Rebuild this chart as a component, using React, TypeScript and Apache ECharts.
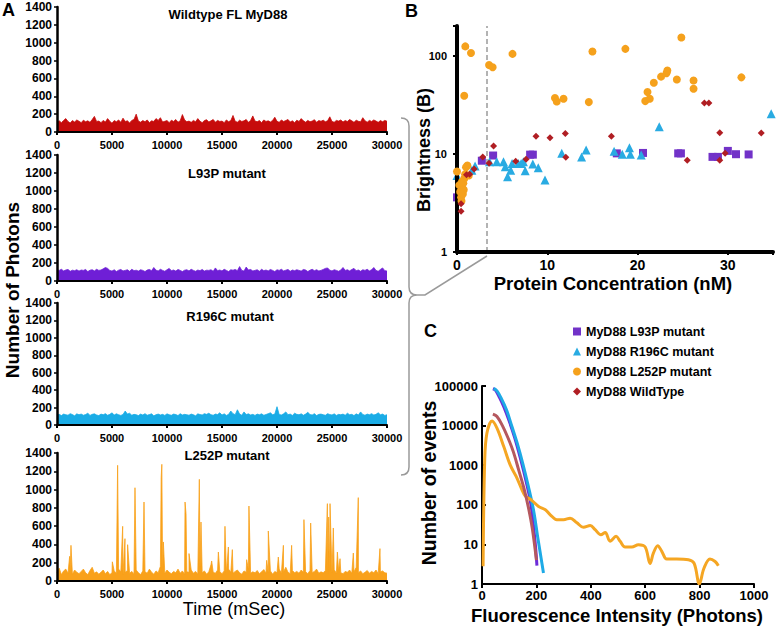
import React, { useEffect, useRef } from 'react';
import * as echarts from 'echarts';

const FONT = '"Liberation Sans", Arial, Helvetica, sans-serif';
const STEP_MS = 200;

const TRACE_NAMES = ['Wildtype FL MyD88', 'L93P mutant', 'R196C mutant', 'L252P mutant'];
const TRACE_COLORS = ['#c60c0c', '#6f1fd6', '#1aace6', '#f9a11b'];

const WT_TRACE = [
  110, 125, 105, 130, 150, 118, 100, 128, 112, 135,
  120, 105, 132, 115, 125, 108, 140, 175, 118, 122,
  105, 130, 112, 150, 120, 98, 128, 115, 135, 108,
  155, 118, 125, 102, 130, 140, 200, 122, 110, 128,
  115, 135, 105, 125, 118, 150, 130, 160, 112, 120,
  128, 105, 132, 118, 140, 110, 125, 195, 135, 115,
  122, 108, 130, 115, 150, 120, 105, 128, 138, 112,
  125, 140, 110, 130, 118, 122, 105, 135, 115, 128,
  185, 120, 110, 132, 118, 125, 140, 108, 130, 180,
  122, 115, 128, 105, 135, 118, 125, 112, 130, 165,
  120, 108, 135, 118, 128, 140, 112, 125, 105, 132,
  118, 150, 125, 110, 130, 115, 122, 138, 108, 128,
  120, 132, 115, 125, 170, 118, 110, 130, 122, 135,
  112, 128, 118, 140, 125, 108, 132, 120, 115, 160,
  125, 110, 130, 118, 135, 122, 108, 128, 115, 130, 120,
];

const L93P_TRACE = [
  125, 118, 130, 112, 122, 128, 108, 120, 115, 125,
  110, 122, 118, 128, 105, 120, 125, 112, 130, 118,
  122, 135, 150, 140, 118, 110, 125, 105, 120, 128,
  112, 118, 125, 108, 130, 115, 120, 110, 125, 118,
  105, 122, 128, 115, 150, 120, 112, 130, 118, 108,
  125, 140, 115, 122, 110, 128, 118, 105, 120, 125,
  112, 130, 118, 108, 122, 115, 128, 110, 120, 118,
  125, 108, 145, 115, 122, 112, 130, 118, 105, 125,
  120, 128, 115, 160, 118, 110, 155, 122, 128, 112,
  118, 125, 108, 130, 115, 122, 112, 128, 118, 105,
  125, 118, 130, 112, 120, 128, 108, 122, 115, 125,
  118, 110, 128, 122, 105, 120, 130, 115, 125, 112,
  118, 128, 140, 145, 120, 112, 125, 118, 108, 122,
  150, 118, 125, 112, 128, 140, 115, 122, 108, 125,
  118, 130, 112, 125, 150, 118, 108, 128, 145, 115, 110,
];

const R196C_TRACE = [
  115, 122, 108, 125, 118, 112, 130, 120, 105, 128,
  118, 125, 112, 120, 135, 110, 122, 128, 115, 108,
  125, 118, 130, 112, 122, 140, 115, 128, 118, 110,
  120, 160, 125, 135, 112, 122, 118, 108, 125, 115,
  130, 112, 120, 128, 105, 118, 125, 115, 122, 110,
  128, 118, 112, 125, 120, 108, 130, 115, 122, 118,
  112, 125, 118, 105, 128, 120, 115, 130, 122, 135,
  118, 112, 125, 120, 140, 115, 128, 110, 122, 160,
  130, 118, 175, 125, 112, 150, 120, 128, 115, 122,
  110, 125, 118, 128, 112, 120, 130, 140, 118, 125,
  210, 120, 115, 128, 150, 118, 125, 110, 135, 122,
  118, 128, 112, 125, 145, 120, 115, 130, 108, 122,
  125, 118, 112, 130, 120, 115, 128, 110, 122, 118,
  125, 112, 135, 118, 122, 108, 128, 115, 150, 120,
  112, 125, 118, 130, 115, 122, 140, 118, 125, 110, 118,
];

const L252P_BASE = [
  90, 140, 70, 110, 130, 85, 100, 75, 120, 95,
  80, 105, 130, 90, 70, 115, 150, 85, 100, 75,
  95, 120, 80, 105, 70, 90, 110, 85, 130, 100,
  75, 95, 115, 85, 105, 80, 120, 90, 70, 110,
  100, 85, 130, 95, 75, 110, 90, 160, 100, 85,
  120, 95, 80, 105, 90, 130, 85, 110, 75, 100,
  95, 120, 85, 105, 80, 140, 90, 110, 75, 100,
  180, 95, 85, 120, 100, 80, 110, 90, 130, 95,
  85, 105, 120, 90, 75, 110, 95, 130, 85, 100,
  90, 115, 80, 100, 125, 85, 95, 110, 75, 105,
  90, 130, 85, 100, 150, 95, 80, 115, 90, 105,
  85, 120, 95, 100, 80, 115, 90, 105, 130, 85,
  100, 90, 115, 80, 105, 95, 125, 85, 110, 90,
  80, 105, 95, 120, 85, 100, 150, 90, 110, 80,
  95, 115, 85, 105, 90, 120, 80, 100, 110, 90, 85,
];

// [time ms, photons]
const L252P_SPIKES: [number, number][] = [
  [1150, 270], [1270, 390], [5030, 210], [5510, 1265], [5970, 598], [6180, 463], [6420, 397],
  [7090, 1020], [7910, 864], [9470, 1130], [9530, 1276], [9670, 427], [11640, 864], [11730, 736],
  [12000, 300], [12940, 1112], [13090, 645], [14060, 219], [14670, 317], [15270, 598], [15580, 372],
  [15940, 343], [17240, 233], [17450, 820], [19060, 226], [19210, 547], [20120, 262], [20580, 390],
  [21330, 390], [22450, 671], [23060, 634], [24580, 846], [24700, 700], [24820, 846], [25120, 580],
  [25490, 317], [25730, 244], [26940, 306], [27390, 912], [29360, 354],
];

// Panel B: [concentration nM, brightness]
const B_NAMES = ['MyD88 L93P mutant', 'MyD88 R196C mutant', 'MyD88 L252P mutant', 'MyD88 WildType'];
const B_COLORS = ['#7232c8', '#29abe2', '#f5a11c', '#b01e23'];
const B_SYMBOLS = ['rect', 'triangle', 'circle', 'diamond'];
const B_SIZES = [8, 9, 8, 7];

const L93P_B: [number, number][] = [
  [0.0, 3.6], [2.75, 8.5], [4.0, 9.6], [8.1, 9.8], [8.4, 9.8], [17.7, 10.1], [20.6, 10.2],
  [24.5, 10.1], [24.8, 10.1], [28.3, 9.3], [28.9, 9.3], [30.0, 10.7], [30.9, 9.9], [32.3, 9.85],
];
const R196C_B: [number, number][] = [
  [0.0, 6.0], [1.65, 6.8], [2.0, 7.5], [3.6, 8.3], [4.4, 8.3], [5.15, 8.3], [5.35, 7.4], [5.6, 5.85],
  [5.95, 6.8], [6.1, 7.95], [6.8, 7.95], [7.1, 7.95], [7.35, 8.3], [7.55, 6.7], [8.4, 7.85], [9.0, 7.2],
  [9.75, 5.4], [11.6, 10.1], [13.8, 9.3], [14.3, 10.9], [17.4, 10.6], [18.3, 9.9], [19.1, 11.5],
  [19.2, 9.9], [20.4, 9.7], [22.4, 18.8], [34.8, 25.6],
];
const L252P_B: [number, number][] = [
  [0.0, 6.6], [0.25, 4.8], [0.35, 4.1], [0.45, 3.6], [0.5, 3.3], [0.55, 5.2], [0.6, 4.5], [0.65, 3.9],
  [0.7, 5.0], [0.75, 4.3], [0.8, 5.6], [0.9, 6.2], [0.8, 39], [0.92, 124], [1.0, 7.3], [1.15, 7.6],
  [1.3, 6.0], [1.55, 106], [3.55, 80], [3.95, 76], [6.15, 104], [10.85, 37], [11.05, 34], [11.8, 36.4],
  [14.6, 33.6], [15.0, 110], [18.65, 117], [20.85, 34.4], [21.1, 42.5], [21.35, 36.4], [21.8, 52.8],
  [22.6, 61], [23.2, 66], [23.3, 70.5], [24.35, 57], [24.85, 153], [26.2, 55.8], [26.2, 46], [31.5, 60],
];
const WT_B: [number, number][] = [
  [0.45, 2.6], [0.45, 3.1], [1.05, 6.1], [1.4, 6.2], [1.9, 7.0], [2.85, 9.3], [3.55, 8.0], [4.05, 12],
  [6.5, 8.4], [7.65, 8.8], [8.75, 15.1], [10.3, 14.6], [12.0, 16.1], [12.05, 9.2], [17.1, 15.1],
  [25.5, 8.6], [27.4, 32.9], [27.9, 32.9], [29.1, 16.4], [29.1, 8.6], [29.7, 10.1], [33.7, 16.3],
];
const DASH_X = 3.3;

// Panel C: [photons, number of events]
const C_COLORS = ['#6c2bd9', '#1eaae6', '#f5a623', '#b5585e'];
const L93P_C: [number, number][] = [
  [40, 85000], [50, 78000], [65, 50000], [80, 30000], [100, 13000], [120, 5000], [140, 1600],
  [160, 450], [180, 100], [195, 12], [202, 2.9],
];
const R196C_C: [number, number][] = [
  [43, 87000], [55, 75000], [70, 50000], [90, 25000], [110, 9500], [130, 3500], [150, 1100],
  [170, 300], [190, 70], [205, 15], [226, 1.9],
];
const L252P_C: [number, number][] = [
  [4, 2.8], [10, 1350], [18, 6400], [37, 13000], [55, 8600], [80, 2950], [104, 1000], [126, 515],
  [147, 240], [159, 168], [184, 128], [208, 91], [233, 75], [251, 56], [275, 42], [300, 42], [324, 46],
  [349, 35], [373, 27], [398, 30], [416, 23.5], [437, 17.5], [453, 20], [471, 12], [493, 16], [508, 12],
  [526, 8.6], [551, 8.6], [575, 9.8], [600, 8.6], [618, 3.3], [630, 6], [646, 9.3], [661, 6.7],
  [679, 4.3], [716, 4.3], [759, 4.1], [780, 3.3], [799, 1], [816, 2.5], [838, 4.3], [857, 3.7], [869, 2.9],
];
const WT_C: [number, number][] = [
  [40, 19500], [55, 17000], [75, 10000], [95, 5000], [115, 2200], [135, 750], [155, 250], [170, 90],
  [185, 25], [200, 4],
];

const BRACE_D =
  'M401 118 Q409 118 409 126 L409 287 Q409 295 417 295 Q409 295 409 303 L409 467 Q409 475 401 475 ' +
  'M417 295 L425 295 L487 256';

let braceRegistered = false;
function ensureBrace() {
  if (braceRegistered) return;
  echarts.graphic.registerShape('brace', echarts.graphic.extendPath(BRACE_D, {}) as any);
  braceRegistered = true;
}

function txt(text: string, x: number, y: number, size: number, opts: any = {}) {
  const weight = opts.weight || 'bold';
  const align = opts.align || 'center';
  const valign = opts.valign || 'middle';
  return {
    type: 'text',
    x,
    y,
    rotation: opts.rotation || 0,
    silent: true,
    style: {
      text,
      fill: '#000',
      font: `${weight} ${size}px ${FONT}`,
      align,
      verticalAlign: valign,
      textAlign: align,
      textVerticalAlign: valign,
    },
  };
}

const isPow10 = (v: number) => {
  const l = Math.log10(v);
  return Math.abs(l - Math.round(l)) < 1e-6;
};
const plain = (v: number) => String(v);

export default function App() {
  const ref = useRef<HTMLDivElement>(null);

  useEffect(() => {
    if (!ref.current) return;
    ensureBrace();
    const chart = echarts.init(ref.current, undefined, { renderer: 'svg' });

    const traces = [WT_TRACE, L93P_TRACE, R196C_TRACE].map((arr) => arr.map((v, i) => [i * STEP_MS, v]));
    const l252 = [...L252P_BASE.map((v, i) => [i * STEP_MS, v]), ...L252P_SPIKES].sort((a, b) => a[0] - b[0]);
    traces.push(l252 as any);

    const aTops = [7, 155, 303, 453];
    const aHeights = [125, 126, 122, 128];

    const grids: any[] = aTops.map((t, i) => ({ left: 57, top: t, width: 330, height: aHeights[i] }));
    grids.push({ left: 457, top: 26, width: 316, height: 226 });
    grids.push({ left: 482, top: 386, width: 272, height: 198 });

    const labelBase = { color: '#000', fontWeight: 'bold', fontFamily: FONT };

    const xAxes: any[] = aTops.map((_, i) => ({
      type: 'value',
      gridIndex: i,
      min: 0,
      max: 30000,
      interval: 5000,
      z: 5,
      axisLine: { show: true, onZero: false, lineStyle: { color: '#000', width: 2 } },
      axisTick: { show: true, length: 3, lineStyle: { color: '#000', width: 2 } },
      axisLabel: { ...labelBase, fontSize: 11, margin: 7, formatter: plain },
      splitLine: { show: false },
    }));
    const yAxes: any[] = aTops.map((_, i) => ({
      type: 'value',
      gridIndex: i,
      min: 0,
      max: 1400,
      interval: 200,
      z: 5,
      axisLine: { show: true, lineStyle: { color: '#000', width: 2.5 } },
      axisTick: { show: true, length: 3, lineStyle: { color: '#000', width: 1.5 } },
      axisLabel: { ...labelBase, fontSize: 12, margin: 5, formatter: plain },
      splitLine: { show: false },
    }));

    xAxes.push({
      type: 'value',
      gridIndex: 4,
      min: 0,
      max: 35,
      interval: 10,
      z: 5,
      axisLine: { show: true, onZero: false, lineStyle: { color: '#000', width: 4 } },
      axisTick: { show: true, length: 3, lineStyle: { color: '#000', width: 2 } },
      axisLabel: { ...labelBase, fontSize: 14, margin: 6, formatter: (v: number) => (v % 10 === 0 ? String(v) : '') },
      splitLine: { show: false },
    });
    yAxes.push({
      type: 'log',
      logBase: 10,
      gridIndex: 4,
      min: 1,
      max: 200,
      z: 5,
      axisLine: { show: true, lineStyle: { color: '#000', width: 4 } },
      axisTick: { show: true, length: 4, lineStyle: { color: '#000', width: 2 } },
      axisLabel: { ...labelBase, fontSize: 11, margin: 10, formatter: (v: number) => (isPow10(v) ? String(Math.round(v)) : '') },
      splitLine: { show: false },
      minorTick: { show: false },
    });

    xAxes.push({
      type: 'value',
      gridIndex: 5,
      min: 0,
      max: 1000,
      interval: 200,
      z: 5,
      axisLine: { show: true, onZero: false, lineStyle: { color: '#000', width: 2 } },
      axisTick: { show: true, length: 4, lineStyle: { color: '#000', width: 2 } },
      axisLabel: { ...labelBase, fontSize: 13, margin: 5, formatter: plain },
      splitLine: { show: false },
    });
    yAxes.push({
      type: 'log',
      logBase: 10,
      gridIndex: 5,
      min: 1,
      max: 100000,
      z: 5,
      axisLine: { show: true, lineStyle: { color: '#000', width: 2 } },
      axisTick: { show: true, inside: true, length: 4, lineStyle: { color: '#000', width: 2 } },
      axisLabel: { ...labelBase, fontSize: 13, margin: 4, formatter: (v: number) => (isPow10(v) ? String(Math.round(v)) : '') },
      splitLine: { show: false },
    });

    const series: any[] = [];
    traces.forEach((data, i) => {
      series.push({
        name: TRACE_NAMES[i] + ' trace',
        type: 'line',
        xAxisIndex: i,
        yAxisIndex: i,
        data,
        symbol: 'none',
        showSymbol: false,
        silent: true,
        lineStyle: { color: TRACE_COLORS[i], width: 0.8 },
        areaStyle: { color: TRACE_COLORS[i], opacity: 1 },
        z: 2,
      });
    });

    [L93P_B, R196C_B, L252P_B, WT_B].forEach((data, i) => {
      const s: any = {
        name: B_NAMES[i],
        type: 'scatter',
        xAxisIndex: 4,
        yAxisIndex: 4,
        data,
        symbol: B_SYMBOLS[i],
        symbolSize: B_SIZES[i],
        itemStyle: { color: B_COLORS[i], opacity: 1 },
        silent: true,
        z: 3 + i,
      };
      if (i === 0) {
        s.markLine = {
          silent: true,
          symbol: 'none',
          label: { show: false },
          lineStyle: { type: [5, 3], color: '#9a9a9a', width: 1.5 },
          data: [{ xAxis: DASH_X }],
        };
      }
      series.push(s);
    });

    [L93P_C, R196C_C, L252P_C, WT_C].forEach((data, i) => {
      series.push({
        name: B_NAMES[i] + ' distribution',
        type: 'line',
        xAxisIndex: 5,
        yAxisIndex: 5,
        data,
        smooth: 0.35,
        symbol: 'none',
        showSymbol: false,
        silent: true,
        lineStyle: { color: C_COLORS[i], width: 3 },
        z: 3 + i,
      });
    });

    const graphics: any[] = [
      { type: 'brace', x: 0, y: 0, silent: true, style: { stroke: '#9a9a9a', fill: 'none', lineWidth: 1.5 } },
      txt('A', 2, 1, 18, { align: 'left', valign: 'top' }),
      txt('B', 405, 2, 18, { align: 'left', valign: 'top' }),
      txt('C', 424, 322, 18, { align: 'left', valign: 'top' }),
      txt(TRACE_NAMES[0], 228, 14, 13),
      txt(TRACE_NAMES[1], 227, 173, 13),
      txt(TRACE_NAMES[2], 230, 316, 13),
      txt(TRACE_NAMES[3], 227, 455, 13),
      txt('Number of Photons', 12, 290, 19, { rotation: Math.PI / 2 }),
      txt('Time (mSec)', 234, 609, 18, { weight: 'normal' }),
      txt('Brightness (B)', 424, 150, 18, { rotation: Math.PI / 2 }),
      txt('Protein Concentration (nM)', 613, 283, 18.5),
      txt('Number of events', 429, 483, 19.5, { rotation: Math.PI / 2 }),
      txt('Fluorescence Intensity (Photons)', 617, 615, 18.5),
    ];

    chart.setOption({
      animation: false,
      backgroundColor: '#fff',
      grid: grids,
      xAxis: xAxes,
      yAxis: yAxes,
      series,
      legend: {
        data: B_NAMES,
        orient: 'vertical',
        left: 573,
        top: 325,
        padding: 0,
        itemGap: 7,
        itemWidth: 8,
        itemHeight: 8,
        selectedMode: false,
        textStyle: { color: '#000', fontWeight: 'bold', fontSize: 12.5, fontFamily: FONT },
      },
      graphic: { elements: graphics },
    });

    return () => {
      chart.dispose();
    };
  }, []);

  return (
    <div
      ref={ref}
      style={{ position: 'fixed', left: 0, top: 0, width: 778, height: 628, background: '#fff' }}
    />
  );
}
